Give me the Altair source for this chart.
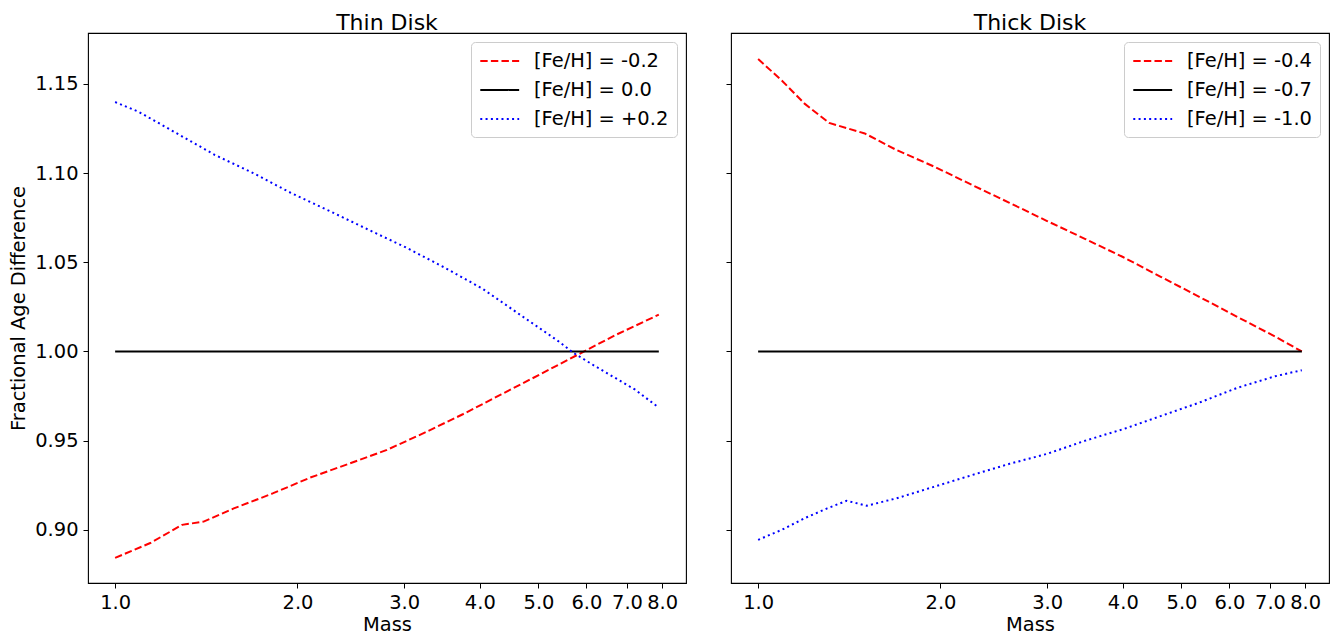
import altair as alt
import pandas as pd

# ---------------- data ----------------
thin_labels = ["[Fe/H] = -0.2", "[Fe/H] = 0.0", "[Fe/H] = +0.2"]
thick_labels = ["[Fe/H] = -0.4", "[Fe/H] = -0.7", "[Fe/H] = -1.0"]

thin_m02_mass = [1.0, 1.143, 1.29, 1.40, 1.57, 1.82, 2.10, 2.43, 2.81, 3.25, 3.75, 4.34, 5.02, 5.80, 6.71, 7.9]
thin_m02_val = [0.8843, 0.8926, 0.9028, 0.9046, 0.912, 0.9204, 0.9293, 0.937, 0.9448, 0.9546,
                0.9648, 0.9759, 0.987, 0.9981, 1.0093, 1.0206]

thin_00_mass = [1.0, 7.9]
thin_00_val = [1.0, 1.0]

thin_p02_mass = [1.0, 1.094, 1.265, 1.46, 1.69, 1.95, 2.26, 2.61, 3.02, 3.49, 4.04, 4.67, 5.40, 5.72, 6.24, 7.21, 7.9]
thin_p02_val = [1.1398, 1.1343, 1.1222, 1.1102, 1.1, 1.0889, 1.0787, 1.0685, 1.0583, 1.0472,
                1.0352, 1.0204, 1.0056, 0.999, 0.9912, 0.9787, 0.9685]

thick_m04_mass = [1.0, 1.094, 1.193, 1.31, 1.50, 1.69, 1.95, 2.25, 2.60, 3.00, 3.47, 4.01, 4.63, 5.35, 6.18, 7.14, 7.9]
thick_m04_val = [1.1639, 1.1519, 1.1389, 1.1281, 1.1222, 1.113, 1.1037, 1.0935, 1.0833, 1.0731,
                 1.063, 1.0528, 1.0417, 1.0306, 1.0194, 1.0083, 1.0]

thick_m07_mass = [1.0, 7.9]
thick_m07_val = [1.0, 1.0]

thick_m10_mass = [1.0, 1.094, 1.193, 1.30, 1.40, 1.46, 1.51, 1.69, 1.95, 2.25, 2.60, 3.00, 3.47, 4.01,
                  4.63, 5.35, 6.18, 7.14, 7.9]
thick_m10_val = [0.8944, 0.9, 0.9065, 0.912, 0.9163, 0.9148, 0.9135, 0.9176, 0.9241, 0.9306, 0.937,
                 0.9426, 0.95, 0.9565, 0.9639, 0.9713, 0.9796, 0.9861, 0.9895]

x_ticks = [1.0, 2.0, 3.0, 4.0, 5.0, 6.0, 7.0, 8.0]
y_ticks = [0.90, 0.95, 1.00, 1.05, 1.10, 1.15]

line_colors = ["#ff0000", "#000000", "#0000ff"]
line_dashes = [[7.4, 3.2], [1, 0], [2, 3.3]]

FONT = "DejaVu Sans"
FS = 19.44


def frame(labels, masses, vals):
    rows = []
    for lab, ms, vs in zip(labels, masses, vals):
        for i, (m, v) in enumerate(zip(ms, vs)):
            rows.append({"series": lab, "mass": m, "value": v, "order": i})
    return pd.DataFrame(rows)


thin_df = frame(thin_labels, [thin_m02_mass, thin_00_mass, thin_p02_mass],
                [thin_m02_val, thin_00_val, thin_p02_val])
thick_df = frame(thick_labels, [thick_m04_mass, thick_m07_mass, thick_m10_mass],
                 [thick_m04_val, thick_m07_val, thick_m10_val])

legend = alt.Legend(
    title=None,
    orient="top-right",
    offset=9,
    padding=8,
    fillColor="white",
    strokeColor="#cccccc",
    cornerRadius=4,
    labelFont=FONT,
    labelFontSize=FS,
    labelColor="black",
    symbolType="M-1,0H3",
    symbolSize=378,
    symbolStrokeWidth=2,
    labelOffset=33,
    rowPadding=8,
)


def panel(df, labels, title, show_y):
    x = alt.X(
        "mass:Q",
        scale=alt.Scale(type="log", domain=[0.902, 8.76], nice=False),
        axis=alt.Axis(values=x_ticks, format=".1f", title="Mass", labelOverlap=False,
                      labelFlush=False),
    )
    if show_y:
        yaxis = alt.Axis(values=y_ticks, format=".2f", title="Fractional Age Difference")
    else:
        yaxis = alt.Axis(values=y_ticks, labels=False, title=None)
    y = alt.Y("value:Q", scale=alt.Scale(domain=[0.8702, 1.1785], nice=False, zero=False), axis=yaxis)
    color = alt.Color("series:N", scale=alt.Scale(domain=labels, range=line_colors), legend=legend)
    dash = alt.StrokeDash("series:N", scale=alt.Scale(domain=labels, range=line_dashes), legend=legend)
    return (
        alt.Chart(df)
        .mark_line(strokeWidth=2, clip=True)
        .encode(x=x, y=y, color=color, strokeDash=dash, order="order:Q")
        .properties(width=598, height=550,
                    title=alt.TitleParams(title, fontSize=22, font=FONT, fontWeight="normal",
                                          color="black", offset=-2, anchor="middle"))
    )


left = panel(thin_df, thin_labels, "Thin Disk", True)
right = panel(thick_df, thick_labels, "Thick Disk", False)

chart = (
    alt.hconcat(left, right, spacing=37)
    .resolve_scale(color="independent", strokeDash="independent")
    .resolve_legend(color="independent", strokeDash="independent")
    .properties(padding={"left": 0, "top": 3, "right": 0, "bottom": 0})
    .configure_view(stroke="black", strokeWidth=1.1)
    .configure_axis(
        domain=False,
        grid=False,
        ticks=True,
        tickColor="black",
        tickSize=5,
        tickWidth=1,
        labelFont=FONT,
        labelFontSize=FS,
        labelColor="black",
        labelPadding=5,
        titleFont=FONT,
        titleFontSize=FS,
        titleFontWeight="normal",
        titleColor="black",
    )
    .configure_axisY(titlePadding=6)
    .configure_axisX(titlePadding=4)
)

chart.save("out.html", embed_options={"renderer": "svg", "actions": False})
